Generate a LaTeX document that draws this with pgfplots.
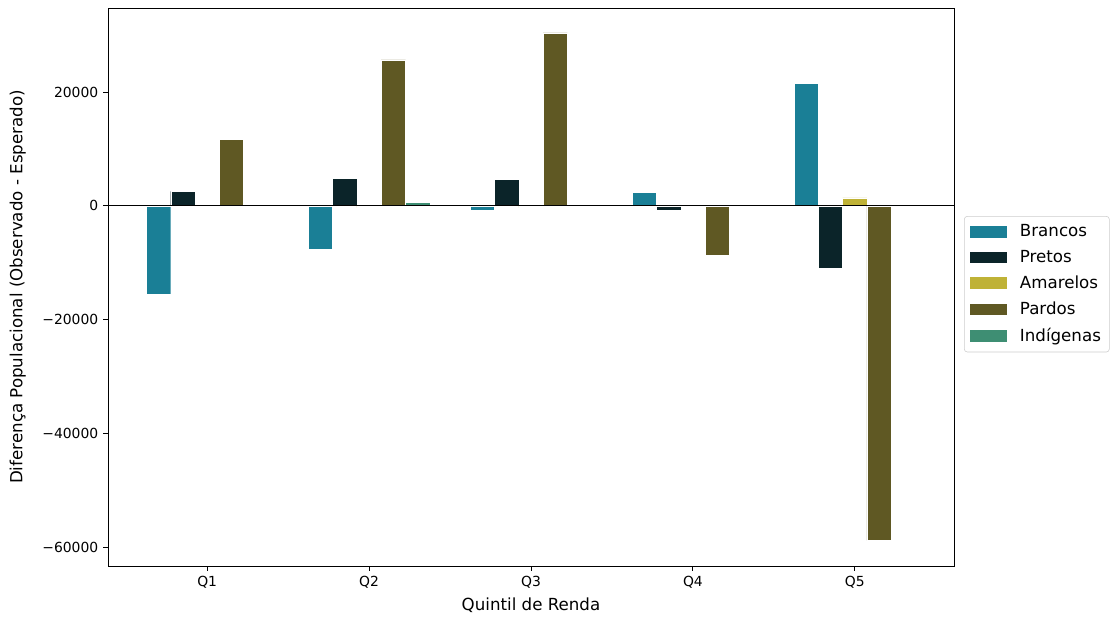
\documentclass[border=0pt]{standalone}
\usepackage{pgfplots}
\pgfplotsset{compat=1.18}
\usepackage{fontspec}
\setmainfont{DejaVu Sans}
\definecolor{cBr}{HTML}{1A7F96}
\definecolor{cPr}{HTML}{0B2429}
\definecolor{cAm}{HTML}{BFB236}
\definecolor{cPa}{HTML}{5F5823}
\definecolor{cIn}{HTML}{3E8E73}
\begin{document}
\begin{tikzpicture}
\begin{axis}[
  at={(0,0)}, anchor=south west,
  scale only axis, width=609.1pt, height=401.8pt,
  xmin=-0.6125, xmax=4.6125,
  ymin=-63300, ymax=34780,
  scaled y ticks=false,
  xtick={0,1,2,3,4}, xticklabels={Q1,Q2,Q3,Q4,Q5},
  ytick={-60000,-40000,-20000,0,20000},
  yticklabels={−60000,−40000,−20000,0,20000},
  tick align=outside, major tick length=3.5pt,
  tick style={black, line width=0.6pt},
  xtick pos=bottom, ytick pos=left,
  axis line style={line width=0.6pt},
  ticklabel style={font=\fontsize{10}{12}\selectfont},
  label style={font=\fontsize{12}{14}\selectfont},
  xlabel={Quintil de Renda},
  ylabel={Diferença Populacional (Observado - Esperado)},
  ylabel style={yshift=5pt},
  legend style={at={(1.012,0.505)}, anchor=west, draw=black!20, rounded corners=2pt,
     font=\fontsize{12}{14}\selectfont, row sep=4.2pt, inner xsep=4pt, inner ysep=4pt,
     nodes={inner xsep=2pt}},
  legend cell align=left,
  legend image code/.code={\fill[#1, draw=none, sharp corners] (0pt,-4.2pt) rectangle (27pt,4.2pt);
     \path[draw=none, fill=none] (0pt,0pt) -- (34pt,0pt);},
]
\addplot[ybar, bar width=0.15, bar shift=-0.3, fill=cBr, draw=white, line width=0.3pt]
  coordinates {(0,-15530) (1,-7620) (2,-750) (3,2410) (4,21580)};
\addplot[ybar, bar width=0.15, bar shift=-0.15, fill=cPr, draw=white, line width=0.3pt]
  coordinates {(0,2530) (1,4820) (2,4640) (3,-750) (4,-11010)};
\addplot[ybar, bar width=0.15, bar shift=0, fill=cAm, draw=white, line width=0.3pt]
  coordinates {(0,-300) (1,-300) (2,-300) (3,-50) (4,1410)};
\addplot[ybar, bar width=0.15, bar shift=0.15, fill=cPa, draw=white, line width=0.3pt]
  coordinates {(0,11680) (1,25630) (2,30380) (3,-8620) (4,-58800)};
\addplot[ybar, bar width=0.15, bar shift=0.3, fill=cIn, draw=white, line width=0.3pt]
  coordinates {(0,-50) (1,600) (2,-50) (3,-50) (4,-50)};
\legend{Brancos,Pretos,Amarelos,Pardos,Indígenas}
\addplot[black, line width=0.8pt, forget plot] coordinates {(-1,0) (5,0)};
\end{axis}
\pgfresetboundingbox
\useasboundingbox (-77.76pt,-36.72pt) rectangle (727.92pt,407.52pt);
\end{tikzpicture}
\end{document}
